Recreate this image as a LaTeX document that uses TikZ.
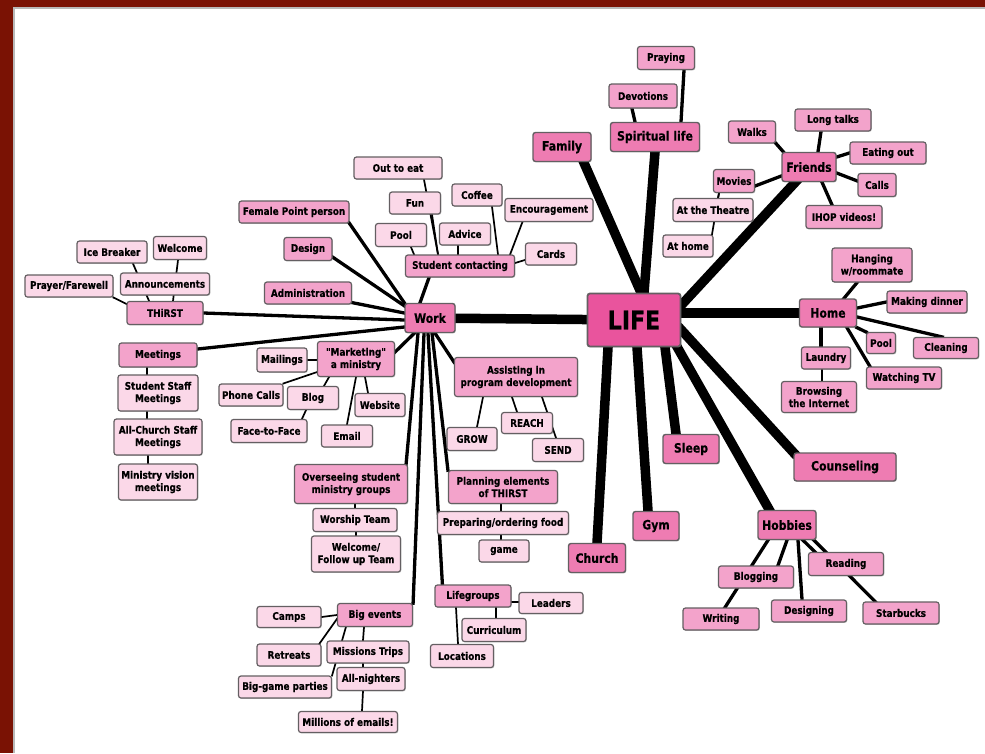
\documentclass[tikz,border=0pt]{standalone}
\usepackage{fontspec}
\newfontfamily\boxfont{DejaVu Sans}[FakeStretch=0.85, BoldFeatures={FakeBold=0.4}]
\usetikzlibrary{shadows}
\definecolor{frameRed}{RGB}{122,18,4}
\definecolor{lifeFill}{RGB}{233,84,157}
\definecolor{lbFill}{RGB}{238,124,178}
\definecolor{lcFill}{RGB}{243,163,203}
\definecolor{ldFill}{RGB}{251,216,232}
\definecolor{boxLine}{RGB}{100,95,98}
\pgfdeclarelayer{pagebg}
\pgfdeclarelayer{edges}
\pgfsetlayers{pagebg,edges,main}
\newcommand\nd[6]{\node[#1,minimum width=#4pt,minimum height=#5pt] (#2) at (#3) {#6};}
\tikzset{
  boxbase/.style={draw=boxLine, line width=1.2pt, rounded corners=2.5pt, inner sep=1.5pt,
    align=center, text=black,
    drop shadow={shadow xshift=0.8pt, shadow yshift=-0.9pt, opacity=0.3, fill=black!70}},
  lA/.style={boxbase, fill=lifeFill, line width=1.8pt, font=\boxfont\fontsize{26}{30}\selectfont\bfseries},
  lB/.style={boxbase, fill=lbFill, line width=1.4pt, font=\boxfont\fontsize{12.8}{15}\selectfont\bfseries},
  lC/.style={boxbase, fill=lcFill, font=\boxfont\fontsize{10.4}{12.3}\selectfont\bfseries},
  lD/.style={boxbase, fill=ldFill, font=\boxfont\fontsize{10.4}{12.3}\selectfont\bfseries},
  e1/.style={line width=9.5pt, shorten <=-5pt, shorten >=-5pt},
  e2/.style={line width=3.3pt, shorten <=-2pt, shorten >=-2pt},
  e3/.style={line width=1.7pt, shorten <=-1pt, shorten >=-1pt}
}
\begin{document}
\begin{tikzpicture}[x=1pt,y=-1pt]
\useasboundingbox (0,0) rectangle (985,753);
\begin{pgfonlayer}{pagebg}
\fill[white] (0,0) rectangle (985,753);
\fill[gray!55] (13,7) rectangle (985,8.6);
\fill[gray!55] (13,7) rectangle (14.6,753);
\fill[frameRed] (0,0) rectangle (985,7);
\fill[frameRed] (0,0) rectangle (13,753);
\end{pgfonlayer}

% ---- centre
\nd{lA}{life}{634,320}{93}{53}{LIFE}
% ---- level 2
\nd{lB}{work}{430,318}{50}{29}{Work}
\nd{lB}{family}{562,147}{58}{29}{Family}
\nd{lB}{spiritual}{655,137}{89}{29}{Spiritual life}
\nd{lB}{friends}{809,167}{54}{29}{Friends}
\nd{lB}{home}{828,313}{57}{28}{Home}
\nd{lB}{sleep}{691,449}{56}{29}{Sleep}
\nd{lB}{counseling}{845,467}{102}{28}{Counseling}
\nd{lB}{hobbies}{787,525}{58}{29}{Hobbies}
\nd{lB}{gym}{656,526}{46}{29}{Gym}
\nd{lB}{church}{597,558}{57}{29}{Church}
% ---- spiritual / friends / home / hobbies children
\nd{lC}{praying}{666,58}{57}{23}{Praying}
\nd{lC}{devotions}{643,96}{68}{24}{Devotions}
\nd{lC}{walks}{752,132}{47}{22}{Walks}
\nd{lC}{longtalks}{833,120}{76}{22}{Long talks}
\nd{lC}{eatingout}{888,153}{76}{22}{Eating out}
\nd{lC}{calls}{877,185}{38}{23}{Calls}
\nd{lC}{ihop}{844,217}{76}{23}{IHOP videos!}
\nd{lC}{movies}{734,181}{41}{23}{Movies}
\nd{lD}{theatre}{713,210}{80}{23}{At the Theatre}
\nd{lD}{athome}{688,246}{50}{22}{At home}
\nd{lC}{hanging}{872,265}{80}{34}{Hanging\\w/roommate}
\nd{lC}{makingdinner}{927,302}{80}{22}{Making dinner}
\nd{lC}{homepool}{881,343}{29}{21}{Pool}
\nd{lC}{cleaning}{946,348}{65}{21}{Cleaning}
\nd{lC}{laundry}{826,358}{49}{22}{Laundry}
\nd{lC}{wtv}{904,378}{75}{22}{Watching TV}
\nd{lC}{browsing}{819,397}{75}{31}{Browsing\\the Internet}
\nd{lC}{reading}{846,564}{75}{23}{Reading}
\nd{lC}{blogging}{756,577}{75}{22}{Blogging}
\nd{lC}{writing}{721,619}{76}{22}{Writing}
\nd{lC}{designing}{809,611}{75}{22}{Designing}
\nd{lC}{starbucks}{901,613}{76}{22}{Starbucks}
% ---- work children
\nd{lC}{fpp}{294,212}{110}{22}{Female Point person}
\nd{lC}{design}{308,249}{48}{23}{Design}
\nd{lC}{adm}{308,293}{87}{22}{Administration}
\nd{lC}{thirst}{165,313}{76}{23}{THiRST}
\nd{lC}{meetings}{158,355}{78}{24}{Meetings}
\nd{lC}{marketing}{356,359}{77}{35}{"Marketing"\\a ministry}
\nd{lC}{sc}{460,266}{109}{22}{Student contacting}
\nd{lC}{assisting}{516,377}{123}{39}{Assisting in\\program development}
\nd{lC}{overseeing}{351,484}{113}{39}{Overseeing student\\ministry groups}
\nd{lC}{planning}{503,487}{109}{33}{Planning elements\\of THIRST}
\nd{lC}{lifegroups}{473,596}{76}{22}{Lifegroups}
\nd{lC}{bigevents}{375,615}{75}{23}{Big events}
% ---- level 4
\nd{lD}{outtoeat}{398,168}{88}{22}{Out to eat}
\nd{lD}{fun}{415,203}{51}{22}{Fun}
\nd{lD}{coffee}{477,195}{50}{22}{Coffee}
\nd{lD}{enc}{549,210}{88}{23}{Encouragement}
\nd{lD}{wpool}{401,235}{51}{23}{Pool}
\nd{lD}{advice}{465,234}{51}{22}{Advice}
\nd{lD}{cards}{551,254}{51}{22}{Cards}
\nd{lD}{ice}{112,252}{70}{22}{Ice Breaker}
\nd{lD}{welcome}{180,248}{53}{23}{Welcome}
\nd{lD}{announce}{165,284}{89}{22}{Announcements}
\nd{lD}{pf}{69,286}{88}{22}{Prayer/Farewell}
\nd{lD}{ssm}{158,393}{80}{36}{Student Staff\\Meetings}
\nd{lD}{acsm}{158,437}{88}{36}{All-Church Staff\\Meetings}
\nd{lD}{mvm}{158,482}{79}{36}{Ministry vision\\meetings}
\nd{lD}{mailings}{282,360}{50}{24}{Mailings}
\nd{lD}{phone}{251,395}{64}{22}{Phone Calls}
\nd{lD}{blog}{313,398}{51}{23}{Blog}
\nd{lD}{website}{380,405}{50}{23}{Website}
\nd{lD}{f2f}{269,431}{76}{23}{Face-to-Face}
\nd{lD}{email}{347,436}{51}{22}{Email}
\nd{lD}{grow}{472,439}{50}{23}{GROW}
\nd{lD}{reach}{527,423}{51}{21}{REACH}
\nd{lD}{send}{558,450}{51}{23}{SEND}
\nd{lD}{prep}{503,523}{131}{23}{Preparing/ordering food}
\nd{lD}{game}{504,551}{50}{22}{game}
\nd{lD}{worship}{355,520}{84}{23}{Worship Team}
\nd{lD}{welcomeft}{356,554}{89}{36}{Welcome/\\Follow up Team}
\nd{lD}{camps}{289,617}{64}{21}{Camps}
\nd{lD}{retreats}{289,655}{64}{22}{Retreats}
\nd{lD}{mt}{368,652}{82}{22}{Missions Trips}
\nd{lD}{bgp}{285,687}{93}{22}{Big-game parties}
\nd{lD}{an}{371,679}{68}{23}{All-nighters}
\nd{lD}{moe}{348,722}{99}{21}{Millions of emails!}
\nd{lD}{leaders}{551,603}{64}{21}{Leaders}
\nd{lD}{curriculum}{494,630}{64}{23}{Curriculum}
\nd{lD}{locations}{462,656}{63}{23}{Locations}

\begin{pgfonlayer}{edges}
% main branches
\draw[e1] (work) -- (life);
\draw[e1] ([xshift=-8pt]family.south east) -- ([xshift=7pt]life.north);
\draw[e1] (spiritual.south) -- ([xshift=10pt]life.north);
\draw[e1] ([xshift=14pt]friends.south west) -- ([yshift=15pt]life.east);
\draw[e1] (home.west) -- (life.east |- home.west);
\draw[e1] (counseling.north west) -- ([yshift=-10pt]life.east);
\draw[e1] ([xshift=12pt]hobbies.north west) -- ([xshift=-4pt]life.south east);
\draw[e1] ([xshift=-15pt]sleep.north) -- ([xshift=31pt]life.south);
\draw[e1] ([xshift=-8pt]gym.north) -- ([xshift=3pt]life.south);
\draw[e1] (church.north) -- ([xshift=-26pt]life.south);
% work
\draw[e2] (fpp.south east) -- (work.north west);
\draw[e2] ([yshift=4pt]design.south east) -- ([yshift=-3pt]work.north west);
\draw[e2] ([yshift=2pt]adm.south east) -- ([yshift=5pt]work.west);
\draw[e2] (thirst.east) -- ([yshift=-2pt]work.west);
\draw[e2] ([yshift=6pt]meetings.east) -- ([yshift=-9pt]work.west);
\draw[e2] ([xshift=-31pt]sc.south) -- ([xshift=-10pt]work.north);
\draw[e2] ([yshift=7pt]marketing.east) -- ([xshift=10pt]work.south west);
\draw[e2] ([xshift=-2pt]overseeing.north east) -- ([xshift=-12pt]work.south);
\draw[e2] (bigevents.north east) -- ([xshift=-6pt]work.south);
\draw[e2] ([xshift=8pt]lifegroups.north west) -- ([xshift=-2pt]work.south);
\draw[e2] (planning.north west) -- ([xshift=2pt]work.south);
\draw[e2] ([yshift=-5pt]assisting.north west) -- ([xshift=5pt]work.south);
% student contacting
\draw[e3] ([xshift=26pt]outtoeat.south) -- ([xshift=-22pt]sc.north);
\draw[e3] ([xshift=17pt]fun.south) -- ([xshift=-22pt]sc.north);
\draw[e3] ([xshift=10pt]wpool.south) -- ([xshift=-46pt]sc.north);
\draw[e3] ([xshift=-7pt]advice.south) -- ([xshift=-2pt]sc.north);
\draw[e3] ([xshift=15pt]coffee.south) -- ([xshift=38pt]sc.north);
\draw[e3] ([xshift=18pt]enc.south west) -- ([xshift=-5pt]sc.north east);
\draw[e3] ([yshift=-6pt]cards.west) -- ([yshift=3pt]sc.east);
% thirst
\draw[e3] (pf.south east) -- ([yshift=-3pt]thirst.north west);
\draw[e3] ([xshift=21pt]ice.south) -- ([xshift=-16pt]thirst.north);
\draw[e3] ([xshift=-2pt]welcome.south) -- ([xshift=8pt]thirst.north);
% meetings
\draw[e3] ([xshift=-11pt]meetings.south) -- ([xshift=-11pt]ssm.north);
\draw[e3] ([xshift=-11pt]ssm.south) -- ([xshift=-11pt]acsm.north);
\draw[e3] ([xshift=-10pt]acsm.south) -- ([xshift=-10pt]mvm.north);
% marketing
\draw[e3] (mailings.east) -- (mailings.east -| marketing.west);
\draw[e3] (phone.north east) -- ([yshift=5pt]marketing.south west);
\draw[e3] ([xshift=11pt]blog.north) -- ([xshift=-27pt]marketing.south);
\draw[e3] ([xshift=33pt]f2f.north) -- ([xshift=-7pt]blog.south);
\draw[e3] (email.north) -- (marketing.south);
\draw[e3] ([xshift=-12pt]website.north) -- ([xshift=9pt]marketing.south);
% assisting
\draw[e3] ([xshift=5pt]grow.north) -- ([xshift=-33pt]assisting.south);
\draw[e3] ([xshift=-10pt]reach.north) -- ([xshift=-4pt]assisting.south);
\draw[e3] ([xshift=-2pt]send.north) -- ([xshift=26pt]assisting.south);
% planning
\draw[e3] ([xshift=-2pt]planning.south) -- ([xshift=-2pt]prep.north);
\draw[e3] ([xshift=-2pt]prep.south) -- ([xshift=-3pt]game.north);
% overseeing
\draw[e3] ([xshift=4pt]overseeing.south) -- (worship.north);
\draw[e3] ([xshift=1pt]worship.south) -- (welcomeft.north);
% big events
\draw[e3] (camps.east) -- (bigevents.west);
\draw[e3] ([xshift=-2pt]retreats.north east) -- ([yshift=-4pt]bigevents.west);
\draw[e3] (bgp.north east) -- ([xshift=9pt]bigevents.south west);
\draw[e3] ([xshift=-5pt]mt.north) -- ([xshift=-11pt]bigevents.south);
\draw[e3] ([xshift=-5pt]mt.south) -- ([xshift=-8pt]an.north);
\draw[e3] ([xshift=-8pt]an.south) -- ([xshift=14pt]moe.north);
% lifegroups
\draw[e3] ([yshift=-6pt]lifegroups.east) -- ([yshift=1pt]leaders.west);
\draw[e3] ([xshift=2pt]curriculum.north) -- ([xshift=23pt]lifegroups.south);
\draw[e3] ([xshift=-4pt]locations.north) -- ([xshift=-17pt]lifegroups.south);
% spiritual
\draw[e2] ([xshift=-11pt]devotions.south) -- ([xshift=-20pt]spiritual.north);
\draw[e2] ([xshift=18pt]praying.south) -- ([xshift=26pt]spiritual.north);
% friends
\draw[e2] (walks.south east) -- ([xshift=2pt]friends.north west);
\draw[e2] ([xshift=-12pt]longtalks.south) -- ([xshift=9pt]friends.north);
\draw[e2] (eatingout.west) -- ([yshift=10pt]friends.east);
\draw[e2] ([yshift=4pt]calls.west) -- ([yshift=-6pt]friends.east);
\draw[e2] ([xshift=-12pt]ihop.north) -- ([xshift=13pt]friends.south);
\draw[e2] ([yshift=-5pt]movies.east) -- ([yshift=-9pt]friends.west);
\draw[e3] ([xshift=-15pt]movies.south) -- ([xshift=5pt]theatre.north);
\draw[e3] ([xshift=-15pt]movies.south) -- ([xshift=24pt]athome.north);
% home
\draw[e2] ([xshift=-15pt]hanging.south) -- ([xshift=16pt]home.north);
\draw[e2] (makingdinner.west) -- ([yshift=5pt]home.east);
\draw[e2] ([xshift=-4pt]cleaning.north) -- ([yshift=-4pt]home.east);
\draw[e2] (homepool.north west) -- (home.south east);
\draw[e2] ([xshift=4pt]wtv.north west) -- ([xshift=19pt]home.south);
\draw[e2] ([xshift=-5pt]laundry.north) -- ([xshift=-7pt]home.south);
\draw[e3] ([xshift=3pt]browsing.north) -- ([xshift=-4pt]laundry.south);
% hobbies
\draw[e2] ([xshift=4pt]writing.north) -- ([xshift=-19pt]hobbies.south);
\draw[e2] ([xshift=22pt]blogging.north) -- (hobbies.south);
\draw[e2] ([xshift=-7pt]designing.north) -- ([xshift=11pt]hobbies.south);
\draw[e2] ([xshift=7pt]reading.north west) -- ([xshift=16pt]hobbies.south);
\draw[e2] ([xshift=-26pt]starbucks.north) -- ([xshift=27pt]hobbies.south);
\end{pgfonlayer}
\end{tikzpicture}
\end{document}
